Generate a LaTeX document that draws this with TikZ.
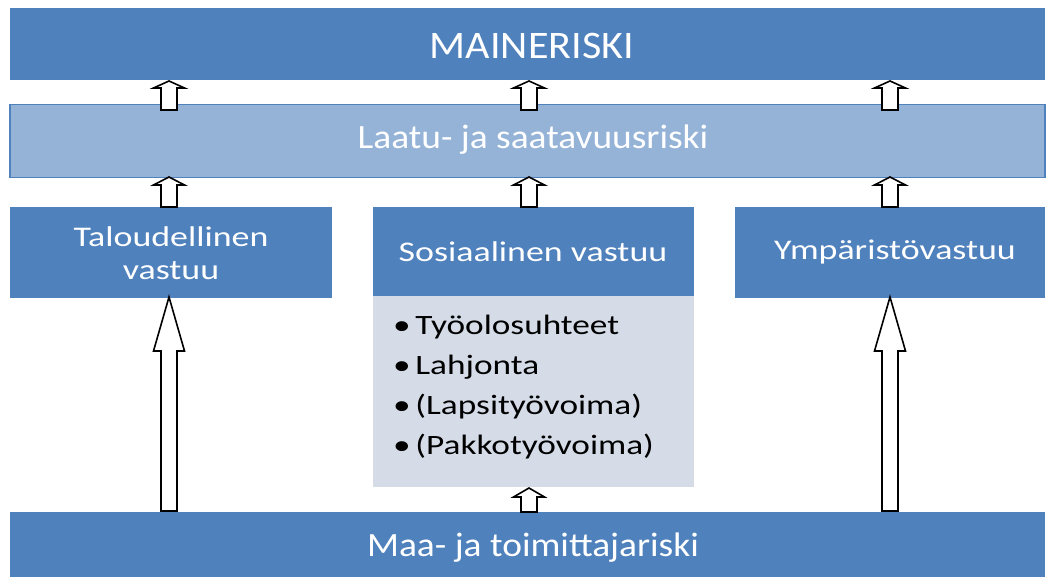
\documentclass[tikz,border=0pt]{standalone}
\usepackage{fontspec}
\setmainfont{Carlito}
\newfontfamily\fmainfam[FakeStretch=1.08]{Carlito}
\newfontfamily\fmidfam[FakeStretch=1.1]{Carlito}
\newfontfamily\fwidefam[FakeStretch=1.26]{Carlito}
\definecolor{dblue}{HTML}{4F81BD}
\definecolor{lblue}{HTML}{95B3D7}
\definecolor{lgrey}{HTML}{D5DCE8}
\newcommand{\blockarr}[4]{% x, y-bottom, y-headbase, y-tip
  \draw[arrowshape] (#1-8,#2) -- (#1-8,#3) -- (#1-15.5,#3) -- (#1,#4) -- (#1+15.5,#3) -- (#1+8,#3) -- (#1+8,#2) -- cycle;}
\tikzset{
  bar/.style={fill=dblue, draw=none},
  lightbar/.style={fill=lblue, draw=dblue, line width=1.5pt},
  txt/.style={text=white, align=center, inner sep=0pt},
  boxtxt/.style={txt, font=\fwidefam\fontsize{28.5}{33}\selectfont},
  bul/.style={text=black, anchor=west, inner sep=0pt, font=\fwidefam\fontsize{28}{34}\selectfont},
  arrowshape/.style={fill=white, draw=black, line width=1.6pt, line join=miter}
}
\begin{document}
\begin{tikzpicture}[x=1pt,y=-1pt]
\useasboundingbox (0,0) rectangle (1049,577);
\fill[white] (0,0) rectangle (1049,577);
% bars
\path[bar] (10,8) rectangle (1045,80);
\node[txt, font=\fmainfam\fontsize{39}{46}\selectfont] (main) at (532,46) {MAINERISKI};
\path[lightbar] (10,104.5) rectangle (1045,177.5);
\node[txt, font=\fmidfam\fontsize{34}{40}\selectfont] (laatu) at (533,140) {Laatu- ja saatavuusriski};
% three boxes
\path[bar] (10,207) rectangle (332,298);
\node[boxtxt] (talous) at (171,253) {Taloudellinen\\vastuu};
\path[fill=lgrey] (373,295) rectangle (694,487);
\path[bar] (373,207) rectangle (694,296);
\node[boxtxt] (sos) at (533,252) {Sosiaalinen vastuu};
\path[bar] (735,207) rectangle (1045,298);
\node[boxtxt] (ymp) at (895,252) {Ympäristövastuu};
% bullets
\node[bul] (b1) at (393,327) {\textbullet\,Työolosuhteet};
\node[bul] (b2) at (393,367) {\textbullet\,Lahjonta};
\node[bul] (b3) at (393,407) {\textbullet\,(Lapsityövoima)};
\node[bul] (b4) at (393,447) {\textbullet\,(Pakkotyövoima)};
% bottom bar
\path[bar] (10,512) rectangle (1045,577);
\node[txt, font=\fmidfam\fontsize{34}{40}\selectfont] (maa) at (533,548) {Maa- ja toimittajariski};
% arrows
\blockarr{169}{110}{88}{81}
\blockarr{529}{110}{88}{81}
\blockarr{890}{110}{88}{81}
\blockarr{169}{207}{185}{177}
\blockarr{529}{207}{185}{177}
\blockarr{890}{207}{185}{177}
\blockarr{169}{511}{351}{297}
\blockarr{890}{511}{351}{297}
\blockarr{529}{512}{497}{488}
\end{tikzpicture}
\end{document}
